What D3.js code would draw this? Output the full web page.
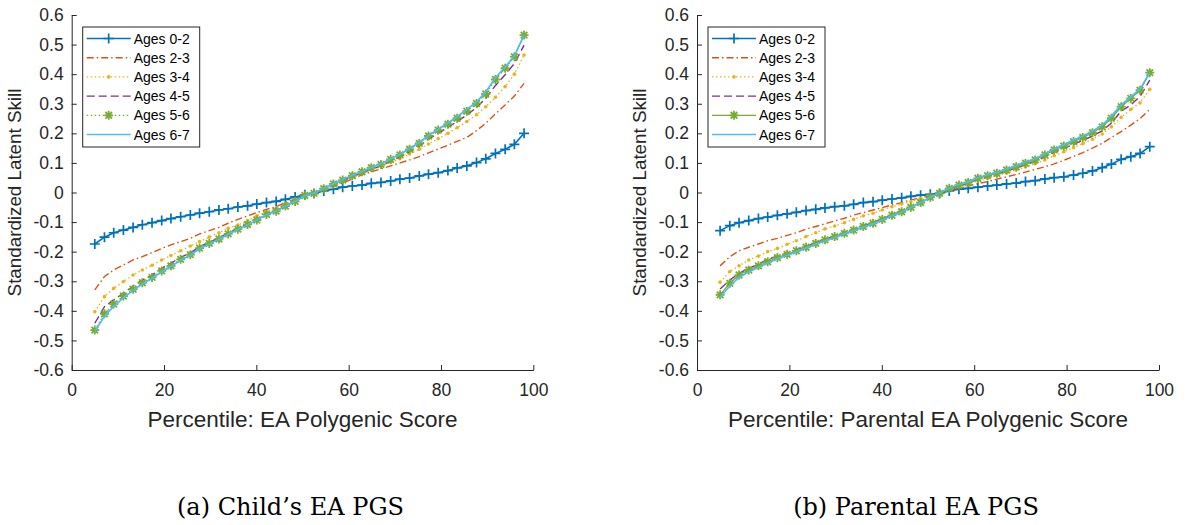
<!DOCTYPE html>
<html>

<head>
  <meta charset="utf-8">
  <title>Standardized Latent Skill by EA PGS percentile</title>
  <script type="text/javascript" src="https://cdn.jsdelivr.net/npm/d3@7"></script>
  <style>
    body {
      margin: 0;
      background-color: white;
    }

    svg {
      display: block;
    }
  </style>
</head>

<body>
  <script type="text/javascript">

    // percentiles of the polygenic score (46 points)
    const pct = [5.0, 7.1, 9.1, 11.2, 13.3, 15.3, 17.4, 19.5, 21.5, 23.6, 25.7, 27.7, 29.8, 31.9, 33.9, 36.0,
      38.1, 40.1, 42.2, 44.3, 46.3, 48.4, 50.5, 52.5, 54.6, 56.7, 58.7, 60.8, 62.9, 64.9, 67.0, 69.1,
      71.1, 73.2, 75.3, 77.3, 79.4, 81.5, 83.5, 85.6, 87.7, 89.7, 91.8, 93.9, 95.9, 98.0];

    const seriesNames = ["Ages 0-2", "Ages 2-3", "Ages 3-4", "Ages 4-5", "Ages 5-6", "Ages 6-7"];

    // (a) child's EA PGS
    const childAges02 = [-0.174, -0.151, -0.136, -0.127, -0.118, -0.109, -0.102, -0.095, -0.088, -0.082, -0.076, -0.070,
      -0.065, -0.059, -0.055, -0.049, -0.045, -0.039, -0.034, -0.030, -0.023, -0.015, -0.008, -0.003, 0.005, 0.011,
      0.018, 0.022, 0.025, 0.031, 0.034, 0.039, 0.045, 0.049, 0.056, 0.062, 0.067, 0.074, 0.083, 0.090, 0.101, 0.114,
      0.132, 0.146, 0.163, 0.200];
    const childAges23 = [-0.329, -0.284, -0.262, -0.245, -0.228, -0.217, -0.203, -0.189, -0.177, -0.166, -0.155, -0.140,
      -0.129, -0.118, -0.104, -0.091, -0.079, -0.068, -0.057, -0.048, -0.034, -0.023, -0.012, -0.002, 0.010, 0.021,
      0.032, 0.046, 0.060, 0.070, 0.080, 0.090, 0.100, 0.110, 0.121, 0.134, 0.147, 0.160, 0.173, 0.186, 0.209, 0.234,
      0.266, 0.296, 0.326, 0.369];
    const childAges34 = [-0.403, -0.352, -0.324, -0.301, -0.279, -0.262, -0.246, -0.228, -0.213, -0.197, -0.181, -0.166,
      -0.151, -0.136, -0.121, -0.110, -0.095, -0.079, -0.065, -0.053, -0.037, -0.025, -0.012, -0.003, 0.011, 0.025,
      0.038, 0.052, 0.064, 0.077, 0.088, 0.102, 0.114, 0.130, 0.146, 0.164, 0.182, 0.200, 0.219, 0.240, 0.263, 0.290,
      0.322, 0.358, 0.400, 0.465];
    const childAges45 = [-0.442, -0.386, -0.363, -0.341, -0.316, -0.296, -0.279, -0.256, -0.239, -0.219, -0.204, -0.183,
      -0.168, -0.153, -0.137, -0.121, -0.106, -0.091, -0.073, -0.062, -0.045, -0.029, -0.010, -0.003, 0.012, 0.027,
      0.040, 0.054, 0.066, 0.079, 0.090, 0.106, 0.120, 0.138, 0.157, 0.180, 0.200, 0.220, 0.240, 0.262, 0.287, 0.318,
      0.362, 0.398, 0.436, 0.498];
    const childAges56 = [-0.465, -0.410, -0.377, -0.350, -0.327, -0.305, -0.287, -0.265, -0.248, -0.226, -0.210, -0.188,
      -0.172, -0.157, -0.140, -0.124, -0.108, -0.093, -0.074, -0.063, -0.046, -0.030, -0.010, -0.003, 0.013, 0.029,
      0.042, 0.057, 0.070, 0.084, 0.095, 0.112, 0.127, 0.146, 0.166, 0.191, 0.211, 0.231, 0.251, 0.275, 0.301, 0.333,
      0.382, 0.420, 0.459, 0.532];
    const childAges67 = [-0.470, -0.418, -0.385, -0.356, -0.331, -0.309, -0.290, -0.268, -0.250, -0.229, -0.212, -0.190,
      -0.174, -0.158, -0.141, -0.125, -0.109, -0.093, -0.075, -0.063, -0.046, -0.030, -0.011, -0.002, 0.014, 0.030,
      0.044, 0.058, 0.071, 0.085, 0.097, 0.114, 0.129, 0.149, 0.169, 0.193, 0.214, 0.235, 0.256, 0.281, 0.306, 0.340,
      0.388, 0.424, 0.462, 0.532];

    // (b) parental EA PGS
    const parAges02 = [-0.129, -0.112, -0.102, -0.095, -0.088, -0.083, -0.077, -0.072, -0.067, -0.061, -0.057, -0.052,
      -0.048, -0.045, -0.040, -0.034, -0.031, -0.026, -0.022, -0.018, -0.013, -0.009, -0.006, -0.003, 0.005, 0.011,
      0.014, 0.018, 0.022, 0.025, 0.029, 0.032, 0.037, 0.040, 0.046, 0.050, 0.053, 0.059, 0.065, 0.073, 0.084, 0.096,
      0.112, 0.121, 0.132, 0.155];
    const parAges23 = [-0.248, -0.217, -0.197, -0.185, -0.174, -0.163, -0.155, -0.145, -0.136, -0.124, -0.115, -0.106,
      -0.096, -0.087, -0.076, -0.068, -0.059, -0.051, -0.042, -0.034, -0.025, -0.018, -0.011, -0.003, 0.007, 0.015,
      0.022, 0.030, 0.037, 0.045, 0.053, 0.061, 0.069, 0.078, 0.087, 0.097, 0.109, 0.122, 0.135, 0.150, 0.166, 0.186,
      0.206, 0.228, 0.250, 0.281];
    const parAges34 = [-0.303, -0.267, -0.248, -0.228, -0.215, -0.200, -0.189, -0.175, -0.163, -0.149, -0.136, -0.123,
      -0.113, -0.102, -0.091, -0.079, -0.070, -0.059, -0.048, -0.039, -0.031, -0.020, -0.012, -0.003, 0.010, 0.020,
      0.029, 0.040, 0.049, 0.057, 0.066, 0.076, 0.086, 0.097, 0.110, 0.124, 0.138, 0.152, 0.165, 0.180, 0.198, 0.222,
      0.254, 0.281, 0.303, 0.349];
    const parAges45 = [-0.326, -0.296, -0.273, -0.256, -0.242, -0.226, -0.215, -0.205, -0.193, -0.182, -0.170, -0.158,
      -0.147, -0.136, -0.125, -0.113, -0.102, -0.089, -0.076, -0.064, -0.049, -0.034, -0.014, -0.003, 0.013, 0.023,
      0.032, 0.045, 0.054, 0.062, 0.072, 0.083, 0.094, 0.105, 0.120, 0.136, 0.149, 0.163, 0.176, 0.191, 0.208, 0.235,
      0.275, 0.296, 0.325, 0.380];
    const parAges56 = [-0.346, -0.307, -0.279, -0.262, -0.248, -0.234, -0.220, -0.209, -0.197, -0.185, -0.172, -0.160,
      -0.149, -0.138, -0.127, -0.115, -0.104, -0.091, -0.077, -0.065, -0.050, -0.034, -0.016, -0.003, 0.014, 0.025,
      0.034, 0.048, 0.057, 0.065, 0.076, 0.087, 0.099, 0.110, 0.127, 0.144, 0.157, 0.172, 0.186, 0.202, 0.222, 0.251,
      0.290, 0.318, 0.346, 0.405];
    const parAges67 = [-0.355, -0.316, -0.287, -0.268, -0.253, -0.238, -0.224, -0.212, -0.200, -0.188, -0.175, -0.163,
      -0.152, -0.140, -0.129, -0.117, -0.106, -0.093, -0.079, -0.066, -0.051, -0.035, -0.016, -0.002, 0.015, 0.027,
      0.036, 0.050, 0.060, 0.068, 0.079, 0.091, 0.103, 0.114, 0.131, 0.148, 0.161, 0.177, 0.191, 0.207, 0.228, 0.258,
      0.296, 0.323, 0.350, 0.405];

    const xTicks = [0, 20, 40, 60, 80, 100];
    const yTicks = [-0.6, -0.5, -0.4, -0.3, -0.2, -0.1, 0, 0.1, 0.2, 0.3, 0.4, 0.5, 0.6];

    const w = 1195;
    const h = 525;
    const axisColor = "#262626";
    const sans = "'Liberation Sans', Arial, sans-serif";

    const svg = d3.select("body")
      .append("svg")
      .attr("width", w)
      .attr("height", h);

    // colours and line styles (MATLAB default palette)
    const styles = [
      { color: "#0072BD", dash: null, width: 1.6, marker: "plus" },
      { color: "#D95319", dash: "7,3,1.5,3", width: 1.4, marker: null },
      { color: "#EDB120", dash: "1.5,2.5", width: 1.3, marker: "dot" },
      { color: "#7E2F8E", dash: "8,4", width: 1.4, marker: null },
      { color: "#77AC30", dash: "1.5,2.5", width: 1.3, marker: "star" },
      { color: "#4DBEEE", dash: null, width: 1.7, marker: null }
    ];

    function drawMarker(g, type, x, y, color) {
      if (type === "plus") {
        g.append("path")
          .attr("d", `M${x - 5},${y}H${x + 5}M${x},${y - 5}V${y + 5}`)
          .attr("stroke", color).attr("stroke-width", 1.7).attr("fill", "none");
      } else if (type === "star") {
        const r = 4.5, d = 3.3;
        g.append("path")
          .attr("d", `M${x - r},${y}H${x + r}M${x},${y - r}V${y + r}M${x - d},${y - d}L${x + d},${y + d}M${x - d},${y + d}L${x + d},${y - d}`)
          .attr("stroke", color).attr("stroke-width", 1.8).attr("fill", "none");
      } else if (type === "dot") {
        g.append("circle")
          .attr("cx", x).attr("cy", y).attr("r", 1.8)
          .attr("fill", color);
      }
    }

    function drawPanel(x0, x1, series, xLabel, caption, greenSolid) {
      const xScale = d3.scaleLinear().domain([0, 100]).range([x0, x1]);
      const yScale = d3.scaleLinear().domain([-0.6, 0.6]).range([370, 15]);

      const g = svg.append("g");

      // x axis (ticks point inward)
      const xAxis = g.append("g")
        .attr("transform", `translate(0,${yScale(-0.6)})`)
        .call(d3.axisBottom(xScale).tickValues(xTicks).tickSizeInner(-5).tickSizeOuter(0).tickPadding(14));
      xAxis.selectAll("text").attr("font-size", "17.5px");

      // y axis
      const yAxis = g.append("g")
        .attr("transform", `translate(${x0},0)`)
        .call(d3.axisLeft(yScale).tickValues(yTicks).tickSizeInner(-5).tickSizeOuter(0).tickPadding(8)
          .tickFormat(function (d) { return d === 0 ? "0" : d3.format(".1f")(d).replace("\u2212", "-"); }));
      yAxis.selectAll("text").attr("font-size", "17.5px");

      g.selectAll(".domain").attr("stroke", axisColor).attr("stroke-width", 1);
      g.selectAll(".tick line").attr("stroke", axisColor);
      g.selectAll(".tick text").attr("fill", axisColor).attr("font-family", sans);

      // lines
      const line = d3.line()
        .x(function (d) { return xScale(d[0]); })
        .y(function (d) { return yScale(d[1]); });

      series.forEach(function (vals, i) {
        const st = styles[i];
        const pts = pct.map(function (p, j) { return [p, vals[j]]; });
        let dash = st.dash;
        if (i === 4 && greenSolid) dash = null;
        g.append("path")
          .datum(pts)
          .attr("d", line)
          .attr("fill", "none")
          .attr("stroke", st.color)
          .attr("stroke-width", st.width)
          .attr("stroke-dasharray", dash);
        if (st.marker) {
          pts.forEach(function (d) {
            drawMarker(g, st.marker, xScale(d[0]), yScale(d[1]), st.color);
          });
        }
      });

      // axis labels
      g.append("text")
        .attr("x", (x0 + x1) / 2)
        .attr("y", 427)
        .attr("text-anchor", "middle")
        .attr("font-family", sans)
        .attr("font-size", "22.5px")
        .attr("fill", axisColor)
        .text(xLabel);

      g.append("text")
        .attr("transform", `translate(${x0 - 51},${yScale(0)}) rotate(-90)`)
        .attr("text-anchor", "middle")
        .attr("font-family", sans)
        .attr("font-size", "18.8px")
        .attr("fill", axisColor)
        .text("Standardized Latent Skill");

      // legend
      const lx = x0 + 11;
      const ly = 27;
      const leg = g.append("g");
      leg.append("rect")
        .attr("x", lx).attr("y", ly)
        .attr("width", 117).attr("height", 120)
        .attr("fill", "white")
        .attr("stroke", axisColor)
        .attr("stroke-width", 1);
      seriesNames.forEach(function (name, i) {
        const st = styles[i];
        const yy = ly + 11.5 + i * 19.2;
        let dash = st.dash;
        if (i === 4 && greenSolid) dash = null;
        leg.append("line")
          .attr("x1", lx + 4).attr("x2", lx + 48)
          .attr("y1", yy).attr("y2", yy)
          .attr("stroke", st.color)
          .attr("stroke-width", st.width)
          .attr("stroke-dasharray", dash);
        if (st.marker) drawMarker(leg, st.marker, lx + 26, yy, st.color);
        leg.append("text")
          .attr("x", lx + 51).attr("y", yy + 5)
          .attr("font-family", sans)
          .attr("font-size", "14px")
          .attr("fill", "#000")
          .text(name);
      });

      // caption
      svg.append("text")
        .attr("x", (x0 + x1) / 2 - 12)
        .attr("y", 515)
        .attr("text-anchor", "middle")
        .attr("font-family", "'DejaVu Serif', 'Liberation Serif', serif")
        .attr("font-size", "24px")
        .attr("fill", "#000")
        .text(caption);
    }

    drawPanel(71.7, 533.3,
      [childAges02, childAges23, childAges34, childAges45, childAges56, childAges67],
      "Percentile: EA Polygenic Score", "(a)  Child\u2019s EA PGS", false);

    drawPanel(697, 1159,
      [parAges02, parAges23, parAges34, parAges45, parAges56, parAges67],
      "Percentile: Parental EA Polygenic Score", "(b)  Parental EA PGS", true);

  </script>
</body>

</html>
